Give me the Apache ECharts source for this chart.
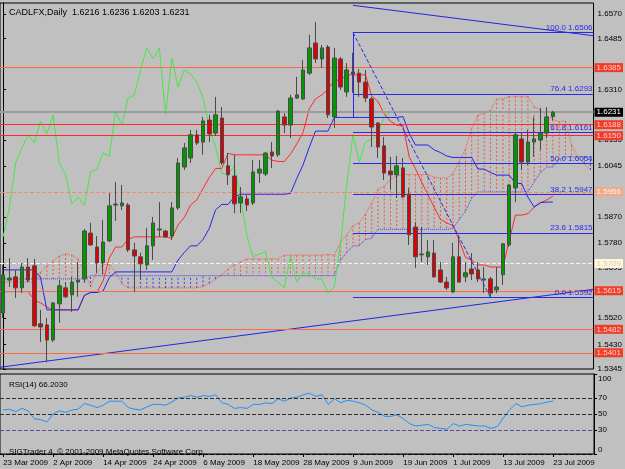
<!DOCTYPE html>
<html><head><meta charset="utf-8">
<script src="https://cdn.jsdelivr.net/npm/echarts/dist/echarts.min.js"></script>
<style>html,body{margin:0;padding:0;background:#C0C0C0}#c{width:625px;height:469px}</style>
</head><body><div id="c"></div>
<script>
const symbolName = 'CADLFX,Daily';
const dates = ['23 Mar 2009','24 Mar 2009','25 Mar 2009','26 Mar 2009','27 Mar 2009','30 Mar 2009','31 Mar 2009',
'1 Apr 2009','2 Apr 2009','3 Apr 2009','6 Apr 2009','7 Apr 2009','8 Apr 2009','9 Apr 2009','10 Apr 2009',
'13 Apr 2009','14 Apr 2009','15 Apr 2009','16 Apr 2009','17 Apr 2009','20 Apr 2009','21 Apr 2009','22 Apr 2009','23 Apr 2009','24 Apr 2009',
'27 Apr 2009','28 Apr 2009','29 Apr 2009','30 Apr 2009','1 May 2009','4 May 2009','5 May 2009','6 May 2009','7 May 2009','8 May 2009',
'11 May 2009','12 May 2009','13 May 2009','14 May 2009','15 May 2009','18 May 2009','19 May 2009','20 May 2009','21 May 2009','22 May 2009',
'25 May 2009','26 May 2009','27 May 2009','28 May 2009','29 May 2009','1 Jun 2009','2 Jun 2009','3 Jun 2009','4 Jun 2009','5 Jun 2009',
'8 Jun 2009','9 Jun 2009','10 Jun 2009','11 Jun 2009','12 Jun 2009','15 Jun 2009','16 Jun 2009','17 Jun 2009','18 Jun 2009','19 Jun 2009',
'22 Jun 2009','23 Jun 2009','24 Jun 2009','25 Jun 2009','26 Jun 2009','29 Jun 2009','30 Jun 2009','1 Jul 2009','2 Jul 2009','3 Jul 2009',
'6 Jul 2009','7 Jul 2009','8 Jul 2009','9 Jul 2009','10 Jul 2009','13 Jul 2009','14 Jul 2009','15 Jul 2009','16 Jul 2009','17 Jul 2009',
'20 Jul 2009','21 Jul 2009','22 Jul 2009','23 Jul 2009','24 Jul 2009','27 Jul 2009','28 Jul 2009','29 Jul 2009','30 Jul 2009','31 Jul 2009'];

// [open, close, low, high]
const ohlc = [
[1.5538,1.5670,1.5521,1.5704],[1.5652,1.5659,1.5628,1.5728],[1.5663,1.5625,1.5590,1.5687],[1.5625,1.5697,1.5607,1.5711],
[1.5697,1.5652,1.5645,1.5728],[1.5701,1.5494,1.5490,1.5725],[1.5501,1.5490,1.5438,1.5549],[1.5497,1.5445,1.5369,1.5521],
[1.5445,1.5573,1.5438,1.5576],[1.5570,1.5632,1.5504,1.5652],[1.5625,1.5594,1.5590,1.5645],[1.5601,1.5645,1.5542,1.5663],
[1.5645,1.5652,1.5594,1.5714],[1.5656,1.5821,1.5642,1.5828],[1.5814,1.5773,1.5770,1.5849],[1.5766,1.5711,1.5677,1.5804],
[1.5711,1.5783,1.5673,1.5859],[1.5787,1.5908,1.5783,1.5952],[1.5914,1.5911,1.5856,1.5990],[1.5908,1.5918,1.5894,1.5980],
[1.5911,1.5756,1.5749,1.5918],[1.5756,1.5735,1.5611,1.5780],[1.5732,1.5708,1.5652,1.5746],[1.5704,1.5770,1.5687,1.5832],
[1.5770,1.5849,1.5721,1.5870],[1.5825,1.5828,1.5801,1.5921],[1.5821,1.5801,1.5797,1.5825],[1.5804,1.5901,1.5790,1.5921],
[1.5901,1.6056,1.5894,1.6073],[1.6042,1.6108,1.6032,1.6125],[1.6073,1.6153,1.6056,1.6170],[1.6153,1.6125,1.6118,1.6170],
[1.6128,1.6201,1.6084,1.6215],[1.6204,1.6156,1.6128,1.6222],[1.6159,1.6222,1.6149,1.6284],[1.6211,1.6056,1.6049,1.6249],
[1.6046,1.6015,1.5980,1.6091],[1.6011,1.5915,1.5883,1.6084],[1.5918,1.5939,1.5883,1.5973],[1.5932,1.5911,1.5890,1.5946],
[1.5918,1.6025,1.5911,1.6066],[1.6021,1.6035,1.5987,1.6066],[1.6018,1.6090,1.6011,1.6094],[1.6094,1.6080,1.6039,1.6128],
[1.6084,1.6235,1.6077,1.6239],[1.6215,1.6187,1.6159,1.6228],[1.6187,1.6280,1.6142,1.6291],[1.6280,1.6291,1.6277,1.6353],
[1.6277,1.6377,1.6273,1.6411],[1.6366,1.6453,1.6360,1.6498],[1.6470,1.6415,1.6401,1.6542],[1.6415,1.6453,1.6384,1.6463],
[1.6456,1.6222,1.6211,1.6463],[1.6215,1.6418,1.6177,1.6453],[1.6415,1.6318,1.6308,1.6422],[1.6301,1.6377,1.6284,1.6401],
[1.6370,1.6363,1.6298,1.6436],[1.6366,1.6335,1.6284,1.6380],[1.6335,1.6280,1.6266,1.6377],[1.6277,1.6180,1.6111,1.6284],
[1.6194,1.6111,1.6073,1.6197],[1.6115,1.6021,1.5997,1.6146],[1.6028,1.6015,1.5963,1.6077],[1.6015,1.6046,1.5935,1.6080],
[1.6039,1.5939,1.5935,1.6073],[1.5949,1.5808,1.5773,1.5970],[1.5835,1.5732,1.5694,1.5852],[1.5739,1.5742,1.5714,1.5835],
[1.5732,1.5749,1.5704,1.5790],[1.5745,1.5663,1.5659,1.5790],[1.5687,1.5645,1.5642,1.5714],[1.5645,1.5625,1.5618,1.5663],
[1.5611,1.5732,1.5607,1.5780],[1.5732,1.5645,1.5642,1.5801],[1.5663,1.5677,1.5645,1.5714],[1.5690,1.5673,1.5652,1.5745],
[1.5687,1.5656,1.5645,1.5714],[1.5652,1.5656,1.5607,1.5697],[1.5656,1.5607,1.5592,1.5663],[1.5618,1.5628,1.5607,1.5697],
[1.5670,1.5777,1.5635,1.5780],[1.5773,1.5980,1.5766,1.5984],[1.5970,1.6153,1.5921,1.6159],[1.6139,1.6059,1.6032,1.6159],
[1.6059,1.6128,1.6049,1.6170],[1.6128,1.6139,1.6077,1.6215],[1.6135,1.6159,1.6101,1.6246],[1.6159,1.6215,1.6142,1.6249],
[1.6216,1.6231,1.6203,1.6236]];

const tenkan = [1.5612,1.5612,1.5612,1.5612,1.5612,1.5583,1.5573,1.5559,1.5549,1.5549,1.5549,1.5549,1.5549,1.5599,1.5609,1.5609,
1.5649,1.5728,1.5766,1.5766,1.5792,1.5801,1.5801,1.5801,1.5801,1.5801,1.5801,1.5796,1.5842,1.5868,1.5911,1.5929,1.5968,1.6006,
1.6037,1.6037,1.6089,1.6084,1.6084,1.6084,1.6084,1.6084,1.6084,1.6066,1.6061,1.6061,1.6087,1.6122,1.6161,1.6243,1.6277,1.6291,
1.6310,1.6342,1.6342,1.6360,1.6360,1.6360,1.6360,1.6287,1.6268,1.6225,1.6200,1.6186,1.6186,1.6077,1.6036,1.5989,1.5946,1.5903,
1.5861,1.5849,1.5840,1.5789,1.5730,1.5721,1.5704,1.5704,1.5697,1.5697,1.5697,1.5788,1.5876,1.5876,1.5881,1.5904,1.5919,1.5928,1.5942];

const kijun = [1.5687,1.5687,1.5687,1.5687,1.5687,1.5687,1.5660,1.5549,1.5549,1.5549,1.5549,1.5549,1.5549,1.5599,1.5609,1.5609,
1.5614,1.5661,1.5680,1.5680,1.5680,1.5680,1.5680,1.5680,1.5680,1.5680,1.5680,1.5680,1.5721,1.5747,1.5770,1.5770,1.5792,1.5830,
1.5894,1.5913,1.5913,1.5939,1.5948,1.5948,1.5948,1.5948,1.5948,1.5948,1.5948,1.5948,1.5951,1.6003,1.6049,1.6110,1.6166,1.6166,
1.6166,1.6213,1.6213,1.6213,1.6213,1.6213,1.6213,1.6213,1.6213,1.6213,1.6213,1.6213,1.6216,1.6158,1.6118,1.6118,1.6118,1.6101,
1.6092,1.6080,1.6075,1.6075,1.6075,1.6075,1.6035,1.6035,1.6023,1.6014,1.6014,1.6014,1.5986,1.5985,1.5938,1.5904,1.5919,1.5921,1.5921];

const chikou = [1.5801,1.5901,1.6056,1.6108,1.6153,1.6125,1.6201,1.6156,1.6222,1.6056,1.6015,1.5915,1.5939,1.5911,1.6025,1.6035,
1.6090,1.6080,1.6235,1.6187,1.6280,1.6291,1.6377,1.6453,1.6415,1.6453,1.6222,1.6418,1.6318,1.6377,1.6363,1.6335,1.6280,1.6180,
1.6111,1.6021,1.6015,1.6046,1.5939,1.5808,1.5732,1.5742,1.5749,1.5663,1.5645,1.5625,1.5732,1.5645,1.5677,1.5673,1.5656,1.5656,
1.5607,1.5628,1.5777,1.5980,1.6153,1.6059,1.6128,1.6139,1.6159,1.6215,1.6231];

const spanA = [1.5645,1.5645,1.5645,1.5645,1.5645,1.5645,1.5680,1.5701,1.5718,1.5735,1.5742,1.5738,1.5725,1.5680,1.5628,1.5680,
1.5705,1.5708,1.5680,1.5640,1.5625,1.5625,1.5625,1.5625,1.5625,1.5625,1.5625,1.5625,1.5625,1.5625,1.5625,1.5625,1.5630,1.5640,
1.5655,1.5670,1.5690,1.5705,1.5715,1.5725,1.5725,1.5725,1.5725,1.5725,1.5725,1.5738,1.5738,1.5738,1.5738,1.5738,1.5738,1.5738,
1.5740,1.5738,1.5782,1.5808,1.5840,1.5849,1.5880,1.5918,1.5966,1.5975,1.6001,1.6011,1.6016,1.6016,1.6016,1.6016,1.6016,1.6007,
1.6004,1.6004,1.6019,1.6062,1.6105,1.6176,1.6221,1.6228,1.6238,1.6277,1.6277,1.6286,1.6286,1.6286,1.6286,1.6250,1.6240,1.6219,
1.6206,1.6199,1.6201,1.6117,1.6077,1.6054,1.6032];

const spanB = [1.5656,1.5656,1.5656,1.5656,1.5656,1.5656,1.5656,1.5656,1.5656,1.5656,1.5656,1.5656,1.5656,1.5656,
1.5667,1.5667,1.5667,1.5667,1.5667,1.5667,1.5667,1.5667,1.5667,1.5667,1.5667,1.5667,1.5667,1.5667,1.5667,1.5667,1.5667,1.5667,
1.5667,1.5667,1.5667,1.5667,1.5667,1.5667,1.5667,1.5667,1.5667,1.5667,1.5667,1.5667,1.5667,1.5667,1.5667,1.5667,1.5667,1.5667,
1.5667,1.5667,1.5667,1.5667,1.5721,1.5747,1.5770,1.5770,1.5792,1.5796,1.5827,1.5827,1.5827,1.5827,1.5827,1.5827,1.5827,1.5827,
1.5827,1.5827,1.5827,1.5827,1.5830,1.5861,1.5890,1.5934,1.5956,1.5956,1.5956,1.5956,1.5956,1.5956,1.5956,1.5956,1.5956,1.5990,
1.6023,1.6042,1.6042,1.6068,1.6077,1.6077,1.6077,1.6077,1.6077];

const rsi = [55,56,53,57,54,44,43,40,50,54,52,55,56,63,61,58,61,66,66,66,58,56,55,59,62,62,61,65,70,71,
73,71,73,72,74,64,62,57,58,57,62,62,64,63,69,66,70,71,74,76,72,74,62,69,64,67,66,64,61,55,
52,47,47,49,44,38,35,36,37,33,32,31,38,35,37,36,35,35,32,34,45,55,63,59,61,62,63,65,66.203];

const priceTicks = [1.6570,1.6485,1.6310,1.6135,1.6045,1.5870,1.5780,1.5695,1.5520,1.5430,1.5345];
const rsiTicks = [0,30,50,70,100];
const rsiLevels = [70,50,30];
const levelPrices = [1.6385,1.6188,1.6150,1.5956,1.5709,1.5615,1.5482,1.5401];
const fibNames = ['100.0','76.4','61.8','50.0','38.2','23.6','0.0'];
const fibPrices = [1.6506,1.6293,1.6161,1.6054,1.5947,1.5815,1.5592];
const fibBars = [56,78];
const trendUpper = [[56,1.6600],[94.5,1.6495]];
const trendLower = [[-0.5,1.5351],[94.5,1.5620]];
const verticalLine = [[56,1.6506],[56,1.6213]];

const FONT = '"Liberation Sans", Arial, sans-serif';
const cloudData = spanA.map((a, i) => [i, a, spanB[i]]);
const last = ohlc[ohlc.length - 1];
const bid = last[1];

const levelStyle = [
  {line:'#FF6A40', type:'solid', box:'#F03C28', text:'#FFD0C8'},
  {line:'#FF2A2A', type:'solid', box:'#F03C28', text:'#FFD0C8'},
  {line:'#FF2A2A', type:'solid', box:'#F03C28', text:'#FFD0C8'},
  {line:'#F08C6C', type:'dashed', box:'#F0A888', text:'#FFF4F0'},
  {line:'#F4F4F4', type:'dashed', box:'#FFF6DC', text:'#D8D0B8'},
  {line:'#FF6A46', type:'solid', box:'#F03C28', text:'#FFD0C8'},
  {line:'#FF6A46', type:'solid', box:'#F03C28', text:'#FFD0C8'},
  {line:'#FF6A46', type:'solid', box:'#F03C28', text:'#FFD0C8'}
];
const levelLines = levelPrices.map((v, i) => ({
  yAxis: v,
  lineStyle: {color: levelStyle[i].line, type: levelStyle[i].type, width: 1},
  label: {show: true, position: 'end', distance: 1, formatter: v.toFixed(4), fontSize: 8, fontFamily: FONT,
          color: levelStyle[i].text, backgroundColor: levelStyle[i].box, padding: [1, 2, 0, 2]}
}));
levelLines.push({
  yAxis: bid,
  lineStyle: {color: '#9C9C9C', type: 'solid', width: 2},
  label: {show: true, position: 'end', distance: 1, formatter: bid.toFixed(4), fontSize: 8, fontFamily: FONT,
          color: '#FFFFFF', backgroundColor: '#000000', padding: [1, 2, 0, 2]}
});

const FIB = '#2A2AE6';
const fibLines = fibPrices.map((v, i) => [
  {coord: [fibBars[0], v], lineStyle: {color: FIB, width: 1, type: 'solid'},
   label: {show: true, position: 'insideEndTop', distance: 1, formatter: fibNames[i] + ' ' + v.toFixed(4),
           color: FIB, fontSize: 8, fontFamily: FONT}},
  {coord: [94.5, v]}
]);
fibLines.push([
  {coord: [fibBars[0], fibPrices[0]], lineStyle: {color: FIB, width: 1, type: 'dashed'}, label: {show: false}},
  {coord: [fibBars[1], fibPrices[fibPrices.length - 1]]}
]);
fibLines.push([
  {coord: verticalLine[0], lineStyle: {color: FIB, width: 1, type: 'solid'}, label: {show: false}},
  {coord: verticalLine[1]}
]);

const chart = echarts.init(document.getElementById('c'));
chart.setOption({
  animation: false,
  backgroundColor: '#C0C0C0',
  title: [
    {text: symbolName + '  ' + [last[0], last[3], last[2], last[1]].map(v => v.toFixed(4)).join(' '),
     left: 4, top: 3, textStyle: {fontSize: 9, fontWeight: 'normal', color: '#000', fontFamily: FONT}},
    {text: 'RSI(14) ' + rsi[rsi.length - 1].toFixed(4), left: 4, top: 376,
     textStyle: {fontSize: 8, fontWeight: 'normal', color: '#000', fontFamily: FONT}},
    {text: 'SIGTrader 4, \u00A9 2001-2009 MetaQuotes Software Corp.', left: 4, top: 443,
     textStyle: {fontSize: 8, fontWeight: 'normal', color: '#000', fontFamily: FONT}}
  ],
  grid: [
    {left: 0, top: 3, width: 594, height: 366, show: true, borderColor: '#000', borderWidth: 1, backgroundColor: 'transparent'},
    {left: 0, top: 374, width: 594, height: 80, show: true, borderColor: '#000', borderWidth: 1, backgroundColor: 'transparent'}
  ],
  xAxis: [
    {type: 'category', gridIndex: 0, data: dates, boundaryGap: true, show: false},
    {type: 'value', gridIndex: 0, min: -0.5, max: 94.5, show: false},
    {type: 'category', gridIndex: 1, data: dates, boundaryGap: true,
     axisLine: {show: true, lineStyle: {color: '#000', type: 'dashed'}},
     axisTick: {show: true, interval: 7, alignWithLabel: true, length: 3, lineStyle: {color: '#000'}},
     axisLabel: {interval: 7, align: 'left', fontSize: 8, color: '#000', margin: 5, fontFamily: FONT},
     splitLine: {show: false}}
  ],
  yAxis: [
    {type: 'value', gridIndex: 0, position: 'right', min: 1.5345, max: 1.6608,
     axisLine: {show: true, lineStyle: {color: '#000'}},
     axisTick: {show: true, customValues: priceTicks, length: 3, lineStyle: {color: '#000'}},
     axisLabel: {customValues: priceTicks, formatter: v => v.toFixed(4), fontSize: 8, color: '#000', margin: 4, fontFamily: FONT},
     splitLine: {show: false}},
    {type: 'value', gridIndex: 1, position: 'right', min: 0, max: 100,
     axisLine: {show: true, lineStyle: {color: '#000'}},
     axisTick: {show: true, customValues: rsiTicks, length: 3, lineStyle: {color: '#000'}},
     axisLabel: {customValues: rsiTicks, fontSize: 8, color: '#000', margin: 4, fontFamily: FONT,
       formatter: v => v === 100 ? '{t|100}' : (v === 0 ? '{b|0}' : String(v)),
       rich: {t: {fontSize: 8, fontFamily: FONT, color: '#000', padding: [10, 0, 0, 0]},
              b: {fontSize: 8, fontFamily: FONT, color: '#000', padding: [0, 0, 9, 0]}}},
     splitLine: {show: false}}
  ],
  series: [
    {type: 'custom', name: 'kumo', xAxisIndex: 0, yAxisIndex: 0, data: cloudData, z: 1, clip: true,
     encode: {x: 0, y: [1, 2]},
     renderItem: function (params, api) {
       const i = api.value(0), a = api.value(1), b = api.value(2);
       const p1 = api.coord([i, a]), p2 = api.coord([i, b]);
       return {type: 'line', shape: {x1: p1[0], y1: p1[1], x2: p2[0], y2: p2[1]},
               style: {stroke: a >= b ? '#F0583A' : '#3A3AF0', lineDash: [2, 2], lineWidth: 1}};
     }},
    {type: 'line', name: 'Senkou A', data: spanA, showSymbol: false, z: 2,
     lineStyle: {color: '#F0583A', width: 1, type: 'dotted'}},
    {type: 'line', name: 'Senkou B', data: spanB, showSymbol: false, z: 2,
     lineStyle: {color: '#3A3AF0', width: 1, type: 'dotted'},
     markLine: {silent: true, precision: 5, symbol: ['none', 'none'], data: levelLines}},
    {type: 'line', name: 'Chikou', data: chikou, showSymbol: false, z: 3,
     lineStyle: {color: '#44E844', width: 1}},
    {type: 'line', name: 'Tenkan', data: tenkan, showSymbol: false, z: 3,
     lineStyle: {color: '#FF2A2A', width: 1}},
    {type: 'line', name: 'Kijun', data: kijun, showSymbol: false, z: 3,
     lineStyle: {color: '#2424F0', width: 1}},
    {type: 'line', name: 'trendUpper', xAxisIndex: 1, yAxisIndex: 0, data: trendUpper, showSymbol: false, z: 3,
     lineStyle: {color: '#2424E0', width: 1}},
    {type: 'line', name: 'trendLower', xAxisIndex: 1, yAxisIndex: 0, data: trendLower, showSymbol: false, z: 3,
     lineStyle: {color: '#2424E0', width: 1},
     markLine: {silent: true, precision: 5, symbol: ['none', 'none'], data: fibLines}},
    {type: 'candlestick', name: 'price', data: ohlc, barWidth: 4, z: 5,
     itemStyle: {color: '#009A00', color0: '#E00000', borderColor: '#4A4A4A', borderColor0: '#4A4A4A', borderWidth: 1}},
    {type: 'line', name: 'RSI', xAxisIndex: 2, yAxisIndex: 1, data: rsi, showSymbol: false,
     lineStyle: {color: '#1E90FF', width: 1},
     markLine: {silent: true, precision: 2, symbol: ['none', 'none'], label: {show: false},
       data: rsiLevels.map((v, i) => ({yAxis: v, lineStyle: {color: i === 2 ? '#5050A0' : '#303030', type: 'dashed', width: 1}}))}}
  ]
});
</script></body></html>
